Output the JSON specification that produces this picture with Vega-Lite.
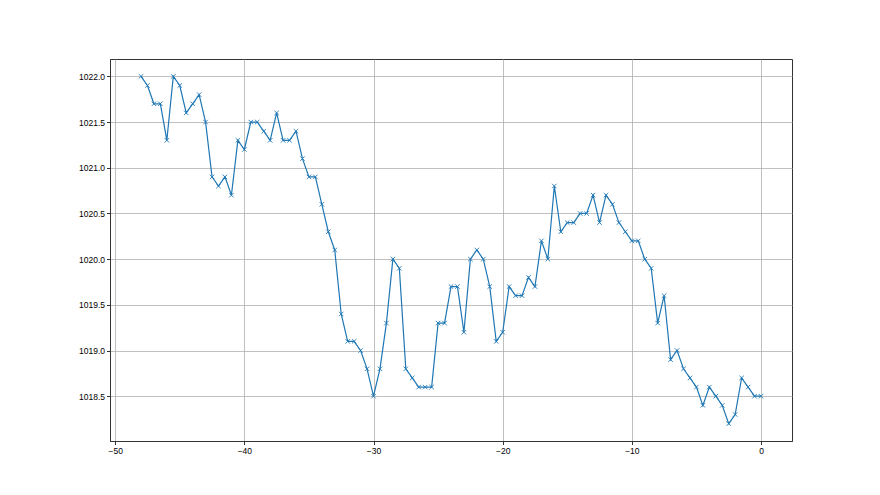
{
  "$schema": "https://vega.github.io/schema/vega-lite/v6.json",
  "width": 682,
  "height": 382,
  "autosize": {"type": "none"},
  "padding": {"left": 110, "top": 59, "right": 88, "bottom": 54},
  "background": "white",
  "config": {
    "view": {"stroke": "#333333", "strokeWidth": 1},
    "axis": {
      "labelFont": "Liberation Sans",
      "labelFontSize": 8.5,
      "labelColor": "#000000",
      "domainColor": "#333333",
      "tickColor": "#333333",
      "tickSize": 3.5,
      "labelPadding": 2,
      "gridColor": "#b0b0b0",
      "gridWidth": 0.8,
      "title": null
    }
  },
  "data": {
    "values": [
      {"x": -48, "y": 1022.0}, {"x": -47.5, "y": 1021.9}, {"x": -47, "y": 1021.7}, {"x": -46.5, "y": 1021.7},
      {"x": -46, "y": 1021.3}, {"x": -45.5, "y": 1022.0}, {"x": -45, "y": 1021.9}, {"x": -44.5, "y": 1021.6},
      {"x": -44, "y": 1021.7}, {"x": -43.5, "y": 1021.8}, {"x": -43, "y": 1021.5}, {"x": -42.5, "y": 1020.9},
      {"x": -42, "y": 1020.8}, {"x": -41.5, "y": 1020.9}, {"x": -41, "y": 1020.7}, {"x": -40.5, "y": 1021.3},
      {"x": -40, "y": 1021.2}, {"x": -39.5, "y": 1021.5}, {"x": -39, "y": 1021.5}, {"x": -38.5, "y": 1021.4},
      {"x": -38, "y": 1021.3}, {"x": -37.5, "y": 1021.6}, {"x": -37, "y": 1021.3}, {"x": -36.5, "y": 1021.3},
      {"x": -36, "y": 1021.4}, {"x": -35.5, "y": 1021.1}, {"x": -35, "y": 1020.9}, {"x": -34.5, "y": 1020.9},
      {"x": -34, "y": 1020.6}, {"x": -33.5, "y": 1020.3}, {"x": -33, "y": 1020.1}, {"x": -32.5, "y": 1019.4},
      {"x": -32, "y": 1019.1}, {"x": -31.5, "y": 1019.1}, {"x": -31, "y": 1019.0}, {"x": -30.5, "y": 1018.8},
      {"x": -30, "y": 1018.5}, {"x": -29.5, "y": 1018.8}, {"x": -29, "y": 1019.3}, {"x": -28.5, "y": 1020.0},
      {"x": -28, "y": 1019.9}, {"x": -27.5, "y": 1018.8}, {"x": -27, "y": 1018.7}, {"x": -26.5, "y": 1018.6},
      {"x": -26, "y": 1018.6}, {"x": -25.5, "y": 1018.6}, {"x": -25, "y": 1019.3}, {"x": -24.5, "y": 1019.3},
      {"x": -24, "y": 1019.7}, {"x": -23.5, "y": 1019.7}, {"x": -23, "y": 1019.2}, {"x": -22.5, "y": 1020.0},
      {"x": -22, "y": 1020.1}, {"x": -21.5, "y": 1020.0}, {"x": -21, "y": 1019.7}, {"x": -20.5, "y": 1019.1},
      {"x": -20, "y": 1019.2}, {"x": -19.5, "y": 1019.7}, {"x": -19, "y": 1019.6}, {"x": -18.5, "y": 1019.6},
      {"x": -18, "y": 1019.8}, {"x": -17.5, "y": 1019.7}, {"x": -17, "y": 1020.2}, {"x": -16.5, "y": 1020.0},
      {"x": -16, "y": 1020.8}, {"x": -15.5, "y": 1020.3}, {"x": -15, "y": 1020.4}, {"x": -14.5, "y": 1020.4},
      {"x": -14, "y": 1020.5}, {"x": -13.5, "y": 1020.5}, {"x": -13, "y": 1020.7}, {"x": -12.5, "y": 1020.4},
      {"x": -12, "y": 1020.7}, {"x": -11.5, "y": 1020.6}, {"x": -11, "y": 1020.4}, {"x": -10.5, "y": 1020.3},
      {"x": -10, "y": 1020.2}, {"x": -9.5, "y": 1020.2}, {"x": -9, "y": 1020.0}, {"x": -8.5, "y": 1019.9},
      {"x": -8, "y": 1019.3}, {"x": -7.5, "y": 1019.6}, {"x": -7, "y": 1018.9}, {"x": -6.5, "y": 1019.0},
      {"x": -6, "y": 1018.8}, {"x": -5.5, "y": 1018.7}, {"x": -5, "y": 1018.6}, {"x": -4.5, "y": 1018.4},
      {"x": -4, "y": 1018.6}, {"x": -3.5, "y": 1018.5}, {"x": -3, "y": 1018.4}, {"x": -2.5, "y": 1018.2},
      {"x": -2, "y": 1018.3}, {"x": -1.5, "y": 1018.7}, {"x": -1, "y": 1018.6}, {"x": -0.5, "y": 1018.5},
      {"x": 0, "y": 1018.5}
    ]
  },
  "encoding": {
    "x": {
      "field": "x", "type": "quantitative",
      "scale": {"domain": [-50.4, 2.4], "nice": false, "zero": false},
      "axis": {"values": [-50, -40, -30, -20, -10, 0], "format": "d"}
    },
    "y": {
      "field": "y", "type": "quantitative",
      "scale": {"domain": [1018.01, 1022.19], "nice": false, "zero": false},
      "axis": {"values": [1018.5, 1019.0, 1019.5, 1020.0, 1020.5, 1021.0, 1021.5, 1022.0], "format": ".1f"}
    }
  },
  "layer": [
    {"mark": {"type": "line", "color": "#1f77b4", "strokeWidth": 1.2, "clip": true}},
    {"mark": {"type": "point", "shape": "M-1,-1L1,1M1,-1L-1,1", "size": 20, "filled": false, "color": "#1f77b4", "strokeWidth": 0.9, "opacity": 1, "clip": true}}
  ]
}
